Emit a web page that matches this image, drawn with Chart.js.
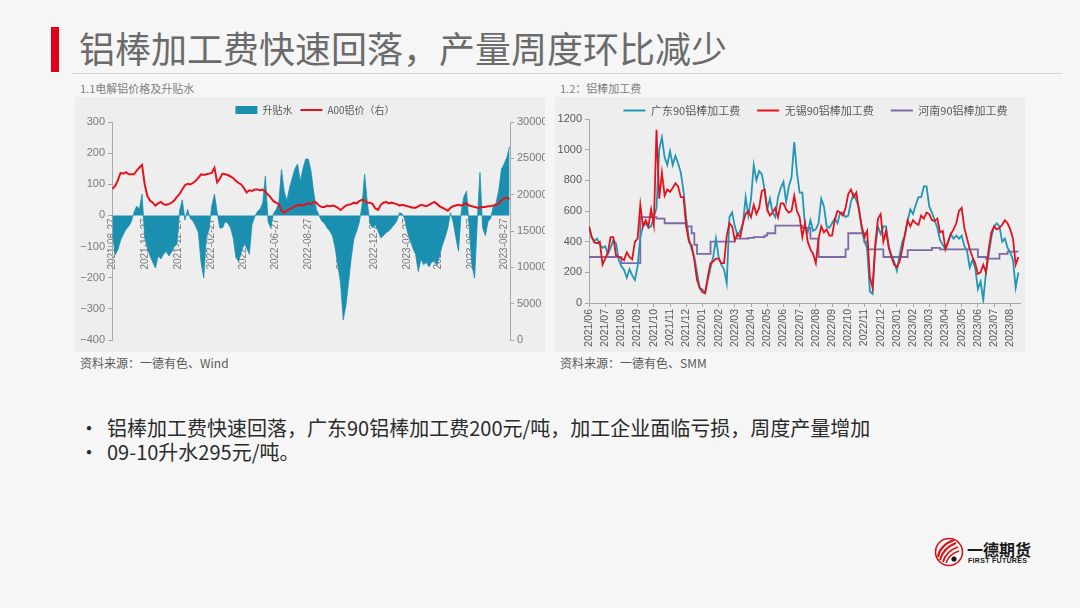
<!DOCTYPE html>
<html><head><meta charset="utf-8">
<script src="https://cdn.jsdelivr.net/npm/chart.js@4.4.1/dist/chart.umd.min.js"></script>
<style>
html,body{margin:0;padding:0;}
body{width:1080px;height:608px;background:#f6f6f6;position:relative;overflow:hidden;font-family:'Noto Sans CJK SC','Liberation Sans',sans-serif;}
.abs{position:absolute;}
#redbar{left:51px;top:27px;width:8px;height:45px;background:#e00018;}
#title{left:79px;top:22px;font-size:36px;line-height:50px;color:#6b6b6b;white-space:nowrap;}
#rule{left:72px;top:73px;width:990px;height:1px;background:#d6d6d6;}
.sub{font-size:11px;color:#7f7f7f;top:80px;line-height:16px;white-space:nowrap;}
.panel{background:#eeeeee;width:470px;height:255px;top:97px;}
.src{font-size:12px;color:#595959;top:355px;line-height:16px;white-space:nowrap;}
.bul{font-size:20px;color:#2b2b2b;white-space:nowrap;line-height:24px;}
</style></head>
<body>
<div id="redbar" class="abs"></div>
<div id="title" class="abs">铝棒加工费快速回落，产量周度环比减少</div>
<div id="rule" class="abs"></div>
<div class="abs sub" style="left:80px;">1.1电解铝价格及升贴水</div>
<div class="abs sub" style="left:560px;">1.2：铝棒加工费</div>
<div class="abs panel" style="left:75px;"><canvas id="cL" width="470" height="255"></canvas></div>
<div class="abs panel" style="left:555px;"><canvas id="cR" width="470" height="255"></canvas></div>
<div class="abs src" style="left:80px;">资料来源：一德有色、Wind</div>
<div class="abs src" style="left:560px;">资料来源：一德有色、SMM</div>
<div class="abs bul" style="left:79px;top:416px;">•</div>
<div class="abs bul" style="left:107px;top:416px;">铝棒加工费快速回落，广东90铝棒加工费200元/吨，加工企业面临亏损，周度产量增加</div>
<div class="abs bul" style="left:79px;top:440px;">•</div>
<div class="abs bul" style="left:107px;top:440px;">09-10升水295元/吨。</div>
<svg class="abs" style="left:934px;top:537px" width="30" height="30" viewBox="0 0 30 30">
  <circle cx="15" cy="15" r="13.5" fill="none" stroke="#d8141b" stroke-width="1.6"/>
  <path d="M4 20 Q6 8 20 3" stroke="#d8141b" stroke-width="2.2" fill="none"/>
  <path d="M6 23 Q9 11 22 6" stroke="#d8141b" stroke-width="2" fill="none"/>
  <path d="M9 25 Q12 14 24 10" stroke="#d8141b" stroke-width="1.8" fill="none"/>
  <path d="M12 26 Q15 17 25 14" stroke="#d8141b" stroke-width="1.5" fill="none"/>
  <circle cx="20" cy="22" r="2.6" fill="#1a1a1a"/>
</svg>
<div class="abs" style="left:967px;top:539px;font-size:16px;line-height:20px;font-weight:700;color:#1a1a1a;white-space:nowrap;">一德期货</div>
<div class="abs" style="left:968px;top:557px;font-size:7px;line-height:8px;font-weight:700;color:#1a1a1a;white-space:nowrap;font-family:'Liberation Sans',sans-serif;letter-spacing:0.3px;">FIRST FUTURES</div>

<script>
// ---------- Chart 1.1 data ----------
const basisStart = '2021-08-27';
const basisStepDays = 5;
const leftTickDates = ['2021-08-27','2021-10-27','2021-12-27','2022-02-27','2022-04-27','2022-06-27','2022-08-27','2022-10-27','2022-12-27','2023-02-27','2023-04-27','2023-06-27','2023-08-27'];
const basis = [
 -60,-126,-110,-80,-61,-45,-35,-20,10,30,
 20,68,-72,-105,-130,-150,-169,-130,-140,-125,
 -115,-130,-118,-100,-94,14,50,-15,19,-10,
 -18,-35,-55,-150,-201,-70,-45,30,68,10,
 -40,-40,-20,-25,-40,-72,-135,-147,-120,-90,
 -104,-125,-30,-5,12,20,40,127,-20,-40,
 5,19,40,148,78,46,89,120,150,165,
 110,150,181,181,143,75,20,0,-18,-25,
 -40,-50,-65,-104,-160,-215,-335,-290,-215,-135,
 -75,-51,-22,30,132,40,-25,-40,-30,-50,
 -72,-65,-55,-50,-40,-30,-18,9,5,-12,
 -55,-80,-105,-125,-180,-140,-158,-150,-165,-150,
 -145,-160,-126,-95,-70,-40,9,-20,-70,-115,
 10,60,78,-40,-160,-201,-20,138,-40,-65,
 -20,-10,30,40,80,148,165,185,220];
const a00Price = [
 20800,21200,22000,23000,22900,23100,22800,22800,22800,23300,
 23700,24100,21400,19800,19200,18900,18500,18800,19000,18700,
 18600,18700,18900,19200,19700,20100,20700,21300,21500,21400,
 21600,21900,22300,22800,22700,22800,22900,23000,23700,21700,
 22200,22900,22800,22700,22500,22300,21900,21600,21400,20900,
 20300,20600,20500,20700,20700,20600,20700,20400,20000,19600,
 19100,18900,18700,17800,17500,17800,18000,18200,18400,18500,
 18600,18500,18700,18800,18700,19000,18900,18500,18300,18300,
 18500,18400,18500,18400,18200,17900,18200,18500,18600,18700,
 18900,18800,19100,19300,19200,18900,18900,18700,18100,17900,
 18600,18900,19000,18800,18900,18800,18700,18500,18600,18500,
 18400,18300,18200,18200,18400,18600,18500,18400,18600,18800,
 19000,18700,18400,18200,18000,17800,18200,18400,18500,18600,
 18500,18700,18800,18500,18400,18300,18200,18200,18300,18300,
 18400,18400,18500,18600,18800,19200,19500,19600,19400];

// ---------- Chart 1.2 data ----------
const feeMonths = ['2021/06','2021/07','2021/08','2021/09','2021/10','2021/11','2021/12','2022/01','2022/02','2022/03','2022/04','2022/05','2022/06','2022/07','2022/08','2022/09','2022/10','2022/11','2022/12','2023/01','2023/02','2023/03','2023/04','2023/05','2023/06','2023/07','2023/08'];
const feePointsPerMonth = 6;
const guangdong = [
 500,430,405,420,380,360,370,320,360,410,
 390,280,240,215,165,220,180,150,240,430,
 500,520,490,500,560,620,1000,1080,950,900,
 990,900,960,910,850,730,550,420,350,300,
 200,95,90,65,150,230,300,420,300,250,
 220,130,560,590,500,440,470,520,690,570,
 680,900,800,860,840,740,610,680,590,560,
 690,750,790,660,760,820,1050,850,720,720,
 500,460,540,470,480,520,680,630,500,490,
 520,550,520,590,590,560,570,660,710,670,
 620,480,400,360,75,60,360,500,450,500,
 500,370,310,270,210,310,400,440,540,610,
 580,640,690,690,760,760,630,590,540,490,
 410,380,350,400,450,420,440,420,440,370,
 340,230,280,230,90,140,20,200,310,430,
 500,520,500,400,420,360,330,280,100,200];
const wuxi = [
 500,430,395,390,400,250,290,330,430,430,
 310,300,290,280,330,300,285,400,420,640,
 500,540,500,610,510,1130,680,850,700,740,
 725,750,780,760,690,690,500,400,375,280,
 150,100,70,65,170,260,270,290,290,260,
 260,440,520,500,410,450,430,520,580,600,
 560,640,580,620,730,740,610,570,590,620,
 560,650,650,610,590,600,700,600,560,430,
 520,400,350,320,260,420,500,460,480,440,
 440,540,600,590,570,620,710,740,690,720,
 600,500,430,470,170,100,380,550,580,400,
 470,360,300,250,235,270,350,450,540,500,
 540,520,510,570,550,590,580,540,535,550,
 460,470,350,400,450,480,520,600,620,490,
 420,350,300,260,190,200,250,200,350,460,
 500,480,490,510,540,520,480,420,250,300];
const henan = [
 300,300,300,300,300,300,300,300,300,300,
 300,300,260,260,260,260,260,260,260,560,
 560,560,560,560,560,550,550,550,520,520,
 520,520,520,520,520,520,500,500,455,380,
 320,320,320,320,320,400,400,400,400,400,
 400,400,400,400,420,420,420,420,420,425,
 425,430,430,430,430,440,455,455,455,505,
 505,505,505,505,505,505,505,505,505,490,
 490,490,420,420,420,300,300,300,300,300,
 300,300,300,300,300,350,455,455,455,455,
 455,455,400,350,350,350,350,350,350,300,
 300,300,300,300,300,300,300,300,345,345,
 345,345,345,345,345,345,345,360,360,360,
 350,350,350,350,350,350,350,350,350,350,
 350,350,350,350,300,300,300,290,290,290,
 290,290,320,320,320,335,335,335,335,335];

// ---------- styles ----------
const TEAL = '#1b8fb0';
const RED = '#e2151d';
const GD = '#2196b6';
const WX = '#e3121c';
const HN = '#7b6aa6';
const AXIS = '#a8a8a8';
const TICK = '#7a7a7a';
Chart.defaults.font.family = "'Liberation Sans','Noto Sans CJK SC',sans-serif";
Chart.defaults.color = TICK;

// shifts the legend block horizontally after layout (legend stays drawn by Chart.js)
const legendShift = px => ({
  id: 'legendShift',
  afterLayout(chart) { if (chart.legend) { chart.legend.left += px; chart.legend.right += px; } }
});

const dayOf = d => Math.round((Date.parse(d) - Date.parse(basisStart)) / 86400000);
const leftTickDays = leftTickDates.map(dayOf);
const minus = v => String(v).replace('-', '\u2212');

new Chart(document.getElementById('cL'), {
  type: 'line',
  data: { datasets: [
    { label: '升贴水', data: basis.map((v, i) => ({ x: i * basisStepDays, y: v })), yAxisID: 'y',
      fill: 'origin', backgroundColor: TEAL, borderColor: TEAL, borderWidth: 0.8, pointRadius: 0, tension: 0, order: 2 },
    { label: 'A00铝价（右）', data: a00Price.map((v, i) => ({ x: i * basisStepDays, y: v })), yAxisID: 'y1',
      fill: false, borderColor: RED, borderWidth: 2, pointRadius: 0, tension: 0, order: 1 }
  ]},
  plugins: [legendShift(5)],
  options: {
    responsive: false, animation: false, events: [],
    layout: { padding: { top: 0, bottom: 12, left: 0, right: 0 } },
    plugins: {
      tooltip: { enabled: false },
      legend: {
        maxHeight: 25,
        labels: {
          usePointStyle: true, pointStyleWidth: 22, boxHeight: 8, padding: 8,
          font: { size: 10, family: "'Noto Sans CJK SC',sans-serif" }, color: '#595959',
          sort: (a, b) => a.datasetIndex - b.datasetIndex,
          generateLabels: chart => chart.data.datasets.map((ds, i) => ({
            text: ds.label, datasetIndex: i, hidden: false, fontColor: '#595959',
            fillStyle: i === 0 ? TEAL : RED, strokeStyle: i === 0 ? TEAL : RED,
            lineWidth: i === 0 ? 0 : 2, pointStyle: i === 0 ? 'rect' : 'line'
          }))
        }
      }
    },
    scales: {
      x: {
        type: 'linear', axis: 'x', position: { y: 0 }, min: -1, max: 741,
        afterBuildTicks: s => { s.ticks = leftTickDays.map(v => ({ value: v })); },
        ticks: { autoSkip: false, minRotation: 90, maxRotation: 90, padding: 3, font: { size: 10 }, color: TICK,
          callback: v => { const k = leftTickDays.indexOf(v); return k >= 0 ? leftTickDates[k] : ''; } },
        grid: { display: false, drawTicks: false },
        border: { display: false }
      },
      y: {
        position: 'left', min: -400, max: 300,
        afterFit: s => { s.width = 37; },
        ticks: { stepSize: 100, font: { size: 11 }, color: TICK, padding: 3, callback: v => minus(v) },
        grid: { drawOnChartArea: false, tickLength: 4, color: AXIS },
        border: { color: AXIS }
      },
      y1: {
        position: 'right', min: 0, max: 30000,
        afterFit: s => { s.width = 35; },
        ticks: { stepSize: 5000, font: { size: 11 }, color: TICK, padding: 3, callback: v => String(v) },
        grid: { drawOnChartArea: false, tickLength: 4, color: AXIS },
        border: { color: AXIS }
      }
    }
  }
});

const feeX = i => i / feePointsPerMonth;
new Chart(document.getElementById('cR'), {
  type: 'line',
  data: { datasets: [
    { label: '广东90铝棒加工费', data: guangdong.map((v, i) => ({ x: feeX(i), y: v })), borderColor: GD, backgroundColor: GD,
      borderWidth: 1.8, pointRadius: 0, tension: 0, order: 2 },
    { label: '无锡90铝棒加工费', data: wuxi.map((v, i) => ({ x: feeX(i), y: v })), borderColor: WX, backgroundColor: WX,
      borderWidth: 1.8, pointRadius: 0, tension: 0, order: 1 },
    { label: '河南90铝棒加工费', data: henan.map((v, i) => ({ x: feeX(i), y: v })), borderColor: HN, backgroundColor: HN,
      borderWidth: 1.8, pointRadius: 0, stepped: true, order: 3 }
  ]},
  plugins: [legendShift(28)],
  options: {
    responsive: false, animation: false, events: [],
    layout: { padding: { top: -9, bottom: 5, left: 0, right: 5 } },
    plugins: {
      tooltip: { enabled: false },
      legend: {
        maxHeight: 31,
        labels: {
          usePointStyle: true, pointStyleWidth: 22, boxHeight: 8, padding: 17,
          font: { size: 11, family: "'Noto Sans CJK SC',sans-serif" }, color: '#595959',
          sort: (a, b) => a.datasetIndex - b.datasetIndex,
          generateLabels: chart => chart.data.datasets.map((ds, i) => ({
            text: ds.label, datasetIndex: i, hidden: false, fontColor: '#595959',
            fillStyle: ds.borderColor, strokeStyle: ds.borderColor, lineWidth: 2, pointStyle: 'line'
          }))
        }
      }
    },
    scales: {
      x: {
        type: 'linear', min: 0, max: 26.6,
        afterBuildTicks: s => { s.ticks = feeMonths.map((m, i) => ({ value: i })); },
        afterFit: s => { s.height = 44; },
        ticks: { autoSkip: false, minRotation: 90, maxRotation: 90, padding: 2, font: { size: 10.5 }, color: '#595959',
          callback: v => feeMonths[v] !== undefined ? feeMonths[v] : '' },
        grid: { drawOnChartArea: false, tickLength: 4, color: AXIS },
        border: { color: AXIS }
      },
      y: {
        min: 0, max: 1200,
        afterFit: s => { s.width = 34; },
        ticks: { stepSize: 200, font: { size: 11 }, color: '#595959', padding: 3, callback: v => String(v) },
        grid: { drawOnChartArea: false, tickLength: 4, color: AXIS },
        border: { color: AXIS }
      }
    }
  }
});
</script>
</body></html>
